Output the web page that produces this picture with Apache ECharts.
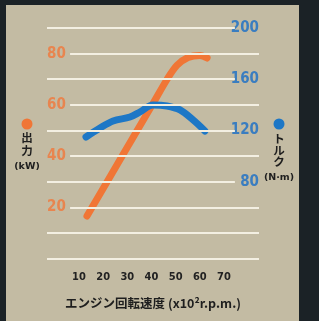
<!DOCTYPE html>
<html><head><meta charset="utf-8">
<script src="https://cdn.jsdelivr.net/npm/echarts@6/dist/echarts.min.js"></script>
<style>
html,body{margin:0;padding:0;background:#1b2226;width:319px;height:321px;overflow:hidden;}
#bg{position:absolute;left:6px;top:5px;width:293px;height:316px;background:#c3bba3;}
#c{position:absolute;left:0;top:0;width:319px;height:321px;}
</style>
</head><body><div id="bg"></div><div id="c"></div>
<script>
// ---- data ----
const xTicks = [10, 20, 30, 40, 50, 60, 70];
const leftTicks = [20, 40, 60, 80];
const rightTicks = [80, 120, 160, 200];
const powerRpm = [13.3, 27.8, 40.2, 46.4, 50.5, 55.1, 60.1, 63.0];
const powerKw = [16.6, 39.9, 59.8, 69.9, 75.4, 78.5, 79.3, 78.3];
const torqueRpm = [12.9, 18.7, 24.1, 31.1, 35.2, 40.6, 46.4, 51.8, 57.2, 62.1];
const torqueNm = [114.9, 121.9, 127.4, 130.5, 134.4, 139.9, 139.1, 136.0, 128.2, 119.6];

const ORANGE = '#f07636', BLUE = '#1d77c6';
const xMin = -3.24, xMax = 84.48, leftCut = 6.3, rightCut = 74.5;
const toRight = v => 20 + v * 2;

// gridline segments (left-axis values 0..90)
const gridLines = [];
for (let v = 0; v <= 90; v += 10) {
  const xs = leftTicks.includes(v) ? leftCut : xMin;
  const xe = rightTicks.includes(toRight(v)) ? rightCut : xMax;
  gridLines.push([{ coord: [xs, v] }, { coord: [xe, v] }]);
}

const numFont = "'Liberation Sans Narrow','DejaVu Sans Condensed',sans-serif";
const chart = echarts.init(document.getElementById('c'), null, { renderer: 'canvas' });
chart.setOption({
  animation: false,
  backgroundColor: 'transparent',
  grid: { left: 47, right: 60, top: 28, bottom: 62.5 },
  xAxis: {
    type: 'value', min: xMin, max: xMax,
    axisLine: { show: false }, axisTick: { show: false }, splitLine: { show: false },
    axisLabel: { customValues: xTicks, margin: 13, color: '#222', fontWeight: 'bold', fontSize: 11, fontFamily: numFont },
    name: 'エンジン回転速度 (x10²r.p.m.)', nameLocation: 'middle', nameGap: 38,
    nameTextStyle: { color: '#1e1e1e', fontWeight: 'bold', fontSize: 12.5, fontFamily: "'Noto Sans CJK JP',sans-serif" }
  },
  yAxis: [
    { type: 'value', min: 0, max: 90, interval: 10, position: 'left',
      axisLine: { show: false }, axisTick: { show: false }, splitLine: { show: false },
      axisLabel: { customValues: leftTicks, inside: true, margin: 0, color: '#e8854f', fontWeight: 'bold', fontSize: 15, fontFamily: numFont } },
    { type: 'value', min: 20, max: 200, interval: 20, position: 'right',
      axisLine: { show: false }, axisTick: { show: false }, splitLine: { show: false },
      axisLabel: { customValues: rightTicks, inside: true, margin: 0, color: '#3a7dc0', fontWeight: 'bold', fontSize: 15, fontFamily: numFont } }
  ],
  series: [
    { type: 'line', data: [], z: 1, silent: true,
      markLine: { silent: true, symbol: ['none', 'none'], label: { show: false },
        lineStyle: { color: '#f3efe2', width: 2, type: 'solid' }, data: gridLines } },
    { name: '出力', type: 'line', yAxisIndex: 0, z: 3, smooth: 0.3, showSymbol: false,
      lineStyle: { color: ORANGE, width: 7, cap: 'round' },
      data: powerRpm.map((x, i) => [x, powerKw[i]]) },
    { name: 'トルク', type: 'line', yAxisIndex: 1, z: 4, smooth: 0.35, showSymbol: false,
      lineStyle: { color: BLUE, width: 7, cap: 'round' },
      data: torqueRpm.map((x, i) => [x, torqueNm[i]]) }
  ],
  graphic: [
    { type: 'circle', shape: { cx: 27, cy: 124, r: 5.5 }, style: { fill: ORANGE } },
    { type: 'text', style: { text: '出\n力', x: 27, y: 144, align: 'center', verticalAlign: 'middle', lineHeight: 12.5,
        fill: '#1e1e1e', font: "bold 11.5px 'Noto Sans CJK JP',sans-serif" } },
    { type: 'text', style: { text: '(kW)', x: 27, y: 167, align: 'center', verticalAlign: 'middle',
        fill: '#1e1e1e', font: "bold 9.5px 'DejaVu Sans',sans-serif" } },
    { type: 'circle', shape: { cx: 279, cy: 124, r: 5.5 }, style: { fill: BLUE } },
    { type: 'text', style: { text: 'ト\nル\nク', x: 279, y: 150.5, align: 'center', verticalAlign: 'middle', lineHeight: 11.5,
        fill: '#1e1e1e', font: "bold 11.5px 'Noto Sans CJK JP',sans-serif" } },
    { type: 'text', style: { text: '(N·m)', x: 279, y: 178, align: 'center', verticalAlign: 'middle',
        fill: '#1e1e1e', font: "bold 9.5px 'DejaVu Sans',sans-serif" } }
  ]
});
</script>
</body></html>
